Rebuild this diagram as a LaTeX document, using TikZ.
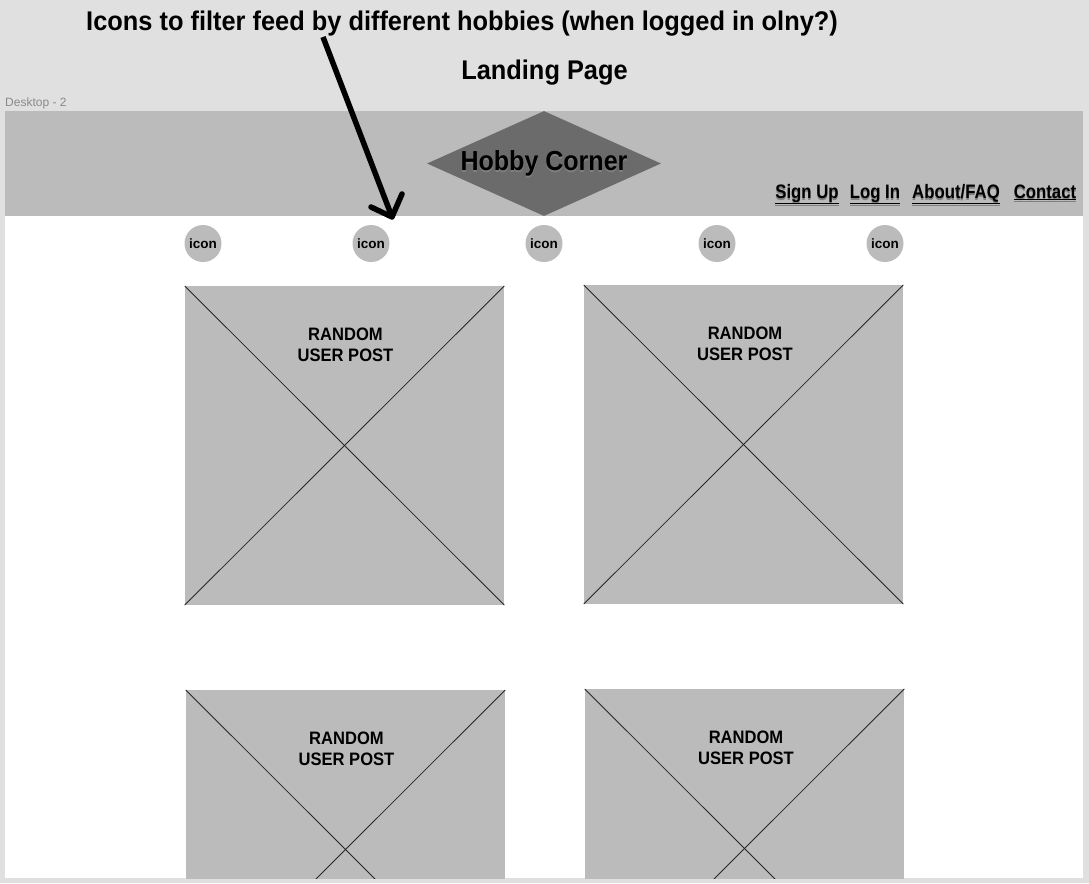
\documentclass[tikz,border=0pt]{standalone}
\usepackage{fontspec}
\setmainfont{Liberation Sans}
\newfontfamily\headfont[FakeStretch=0.94]{Liberation Sans}
\newfontfamily\brandfont[FakeStretch=0.91]{Liberation Sans}
\newfontfamily\navfont[FakeStretch=0.86]{Liberation Sans}
\newfontfamily\postfont[FakeStretch=0.92]{Liberation Sans}
\usetikzlibrary{shapes.geometric}
\definecolor{pagebg}{HTML}{E0E0E0}
\definecolor{block}{HTML}{BBBBBB}
\definecolor{logo}{HTML}{6B6B6B}
\definecolor{framelabel}{HTML}{8A8A8A}
\tikzset{
  x=1pt,y=-1pt,
  post/.style={draw=none,fill=block,rectangle,minimum width=319.5pt,minimum height=319pt,inner sep=0pt,outer sep=0pt},
  diag/.style={draw=black!85,line width=0.8pt},
  posttext/.style={align=center,font=\postfont\fontsize{18}{21}\selectfont\bfseries,inner sep=0pt},
  iconbtn/.style={circle,fill=block,minimum size=37pt,inner sep=0pt,font=\fontsize{13.5}{15}\selectfont\bfseries},
  heading/.style={font=\headfont\fontsize{27}{30}\selectfont\bfseries,inner sep=0pt},
  brandtext/.style={font=\brandfont\fontsize{27.5}{30}\selectfont\bfseries,inner sep=0pt},
  navlink/.style={font=\navfont\fontsize{19.5}{22}\selectfont\bfseries,inner sep=0pt,anchor=base},
  navshadow/.style={navlink,text=black!50},
  pointer/.style={line width=5.5pt,line cap=butt,line join=round},
}
\begin{document}
\begin{tikzpicture}
\useasboundingbox (0,0) rectangle (1089,883);
\fill[pagebg] (0,0) rectangle (1089,883);
\fill[white] (5,111) rectangle (1083,878);
\fill[block] (5,111) rectangle (1083,216);
\node[anchor=west,inner sep=0pt,text=framelabel,font=\fontsize{12}{14}\selectfont] (frame) at (5,103.5) {Desktop - 2};
\node[diamond,aspect=2.23,fill=logo,minimum width=234pt,minimum height=105pt,inner sep=0pt] (diamondlogo) at (544,163.5) {};
\node[brandtext,text=black!50] at (544,165.5) {Hobby Corner};
\node[brandtext] (brand) at (544,163.5) {Hobby Corner};
\node[navshadow] at (807,200) {\underline{Sign Up}};
\node[navshadow] at (875,200) {\underline{Log In}};
\node[navshadow] at (956,200) {\underline{About/FAQ}};
\node[navshadow] at (1045,200) {\underline{Contact}};
\node[navlink] (signup) at (807,198) {\underline{Sign Up}};
\node[navlink] (login) at (875,198) {\underline{Log In}};
\node[navlink] (about) at (956,198) {\underline{About/FAQ}};
\node[navlink] (contact) at (1045,198) {\underline{Contact}};
\foreach \n/\px in {a/203,b/371,c/544,d/717,e/885}
  \node[iconbtn] (icon\n) at (\px,243.5) {icon};
\begin{scope}
\clip (5,216) rectangle (1083,878);
\node[post] (p1) at (344.5,445.5) {};
\node[post] (p2) at (743.5,444.5) {};
\node[post] (p3) at (345.5,849.5) {};
\node[post] (p4) at (744.5,848.5) {};
\foreach \p in {p1,p2,p3,p4}{
  \draw[diag] (\p.north west) -- (\p.south east);
  \draw[diag] (\p.north east) -- (\p.south west);
}
\end{scope}
\node[posttext] (t1) at (345.5,344.5) {RANDOM\\USER POST};
\node[posttext] (t2) at (745,343.5) {RANDOM\\USER POST};
\node[posttext] (t3) at (346.5,748.5) {RANDOM\\USER POST};
\node[posttext] (t4) at (746,747.5) {RANDOM\\USER POST};
\node[heading] (note) at (462,23.5) {Icons to filter feed by different hobbies (when logged in olny?)};
\node[heading] (landing) at (544.5,72.5) {Landing Page};
\coordinate (arrowstart) at (323,37);
\coordinate (arrowtip) at (392,217);
\coordinate (barbl) at (371,207);
\coordinate (barbr) at (402,194);
\draw[pointer] (arrowstart) -- (arrowtip);
\draw[pointer,line cap=round] (barbl) -- (arrowtip) -- (barbr);
\end{tikzpicture}
\end{document}
